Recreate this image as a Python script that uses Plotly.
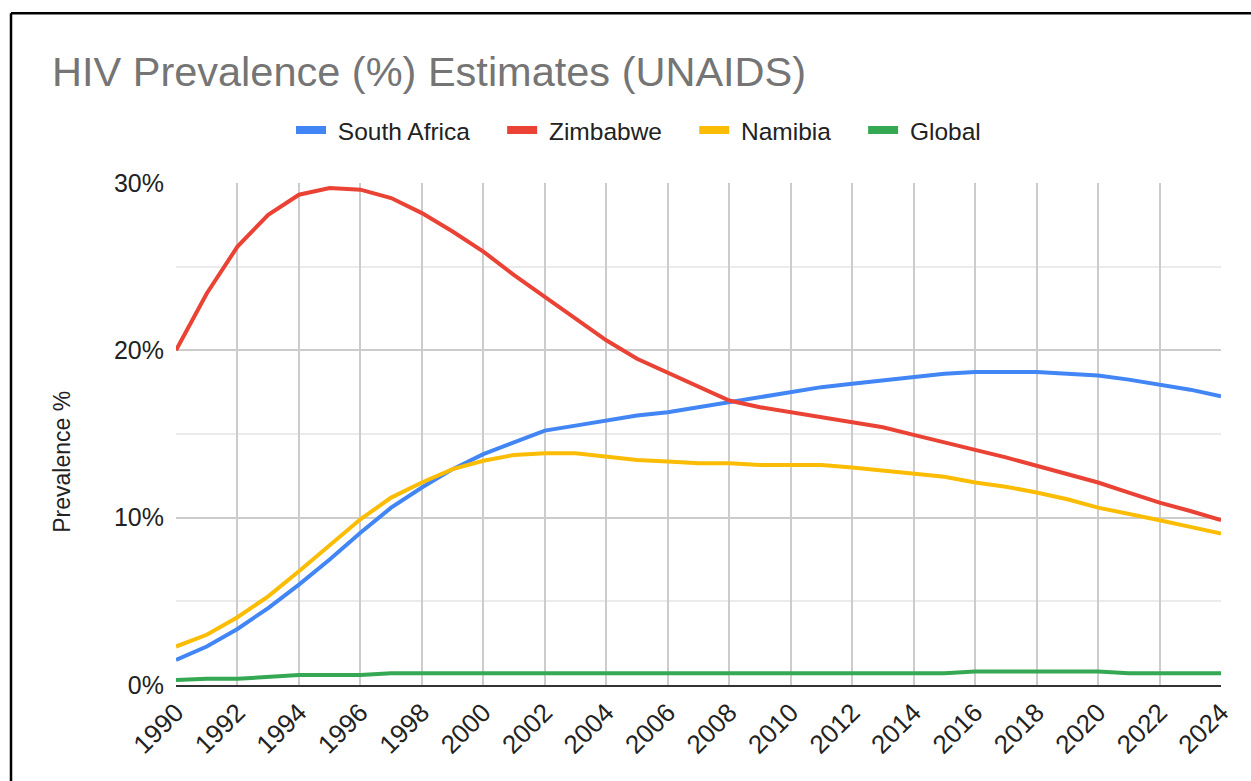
import plotly.graph_objects as go

# UNAIDS HIV prevalence estimates (% of adults 15-49), 1990-2024
years = list(range(1990, 2025))

south_africa = [1.5, 2.3, 3.35, 4.6, 6.0, 7.5, 9.1, 10.6, 11.8, 12.9,
                13.8, 14.5, 15.2, 15.5, 15.8, 16.1, 16.3, 16.6, 16.9, 17.2,
                17.5, 17.8, 18.0, 18.2, 18.4, 18.6, 18.7, 18.7, 18.7, 18.6,
                18.5, 18.25, 17.95, 17.65, 17.25]

zimbabwe = [20.0, 23.4, 26.2, 28.1, 29.3, 29.7, 29.6, 29.1, 28.2, 27.1,
            25.9, 24.5, 23.2, 21.9, 20.6, 19.5, 18.65, 17.8, 17.0, 16.6,
            16.3, 16.05, 15.7, 15.4, 14.95, 14.5, 14.1, 13.6, 13.1, 12.6,
            12.1, 11.5, 10.9, 10.4, 9.85]

namibia = [2.3, 3.0, 4.05, 5.3, 6.8, 8.35, 9.9, 11.2, 12.1, 12.9,
           13.4, 13.75, 13.85, 13.85, 13.65, 13.45, 13.35, 13.25, 13.25, 13.15,
           13.15, 13.15, 13.0, 12.8, 12.6, 12.45, 12.1, 11.85, 11.5, 11.1,
           10.6, 10.25, 9.85, 9.45, 9.05]

global_avg = [0.3, 0.37, 0.37, 0.48, 0.6, 0.6, 0.6, 0.7, 0.7, 0.7,
              0.7, 0.7, 0.7, 0.7, 0.7, 0.7, 0.7, 0.7, 0.7, 0.7,
              0.7, 0.7, 0.7, 0.7, 0.7, 0.7, 0.8, 0.8, 0.8, 0.8,
              0.8, 0.7, 0.7, 0.7, 0.7]

series_names = ["South Africa", "Zimbabwe", "Namibia", "Global"]
series_values = [south_africa, zimbabwe, namibia, global_avg]
series_colors = ["#4285F4", "#EA4335", "#FBBC04", "#34A853"]

x_ticks = list(range(1990, 2025, 2))
y_ticks = [0, 10, 20, 30]

FONT = "Arial, Liberation Sans, sans-serif"
NBSP = "\u00a0"

fig = go.Figure()

for name, vals, color in zip(series_names, series_values, series_colors):
    fig.add_trace(go.Scatter(
        x=years, y=vals, mode="lines", name=name,
        line=dict(color=color, width=4),
        showlegend=False,
        hovertemplate="%{x}: %{y}%<extra>" + name + "</extra>",
    ))

# legend swatches drawn as thick bars, with padding around each label
for name, color in zip(series_names, series_colors):
    fig.add_trace(go.Scatter(
        x=[None], y=[None], mode="lines",
        name=NBSP + name + NBSP * 4,
        line=dict(color=color, width=8),
        showlegend=True, hoverinfo="skip",
    ))

# plot area in pixels: left 176, right 1221, top 183, bottom 685.5
L, R, T, B = 176, 1221, 183, 685.5
W, H = R - L, B - T


def px_x(px):
    return (px - L) / W


def px_y(py):
    return (B - py) / H


fig.update_layout(
    width=1251, height=781,
    margin=dict(l=L, r=1251 - R, t=T, b=781 - B, autoexpand=False),
    paper_bgcolor="white", plot_bgcolor="white",
    font=dict(family=FONT, size=24, color="#222222"),
    title=dict(
        text="HIV Prevalence (%) Estimates (UNAIDS)",
        font=dict(family=FONT, size=41.5, color="#757575"),
        x=52 / 1251, xanchor="left", xref="container",
        y=1 - 71 / 781, yanchor="middle", yref="container",
    ),
    legend=dict(
        orientation="h",
        x=px_x(296) - 5 / W, xanchor="left",
        y=px_y(130), yanchor="middle",
        font=dict(family=FONT, size=24.5, color="#222222"),
        itemwidth=30,
        bgcolor="rgba(0,0,0,0)",
    ),
    xaxis=dict(
        range=[1990, 2024],
        tickmode="array", tickvals=x_ticks,
        ticktext=[str(v) for v in x_ticks],
        tickangle=-45,
        showgrid=True, gridcolor="#cccccc", gridwidth=2,
        zeroline=False,
        showline=True, linecolor="#333333", linewidth=2,
        ticks="", tickfont=dict(size=26, color="#222222"),
    ),
    yaxis=dict(
        range=[0, 30],
        tickmode="array", tickvals=y_ticks,
        ticktext=[f"{v}%" for v in y_ticks],
        showgrid=True, gridcolor="#cccccc", gridwidth=2,
        minor=dict(dtick=5, tick0=0, showgrid=True, gridcolor="#ebebeb", gridwidth=2),
        zeroline=False, showline=False,
        ticks="", ticklabelstandoff=11,
        tickfont=dict(size=25, color="#222222"),
    ),
    annotations=[dict(
        text="Prevalence %", textangle=-90,
        xref="paper", yref="paper",
        x=px_x(62), y=px_y(462),
        xanchor="center", yanchor="middle",
        showarrow=False,
        font=dict(family=FONT, size=23, color="#222222"),
    )],
    shapes=[
        # frame along the top and left edges of the image
        dict(type="line", xref="paper", yref="paper",
             x0=px_x(11), x1=px_x(1260), y0=px_y(13), y1=px_y(13),
             line=dict(color="black", width=2.5), layer="above"),
        dict(type="line", xref="paper", yref="paper",
             x0=px_x(11), x1=px_x(11), y0=px_y(13), y1=px_y(790),
             line=dict(color="black", width=2.5), layer="above"),
    ],
)

fig.write_html("out.html")
